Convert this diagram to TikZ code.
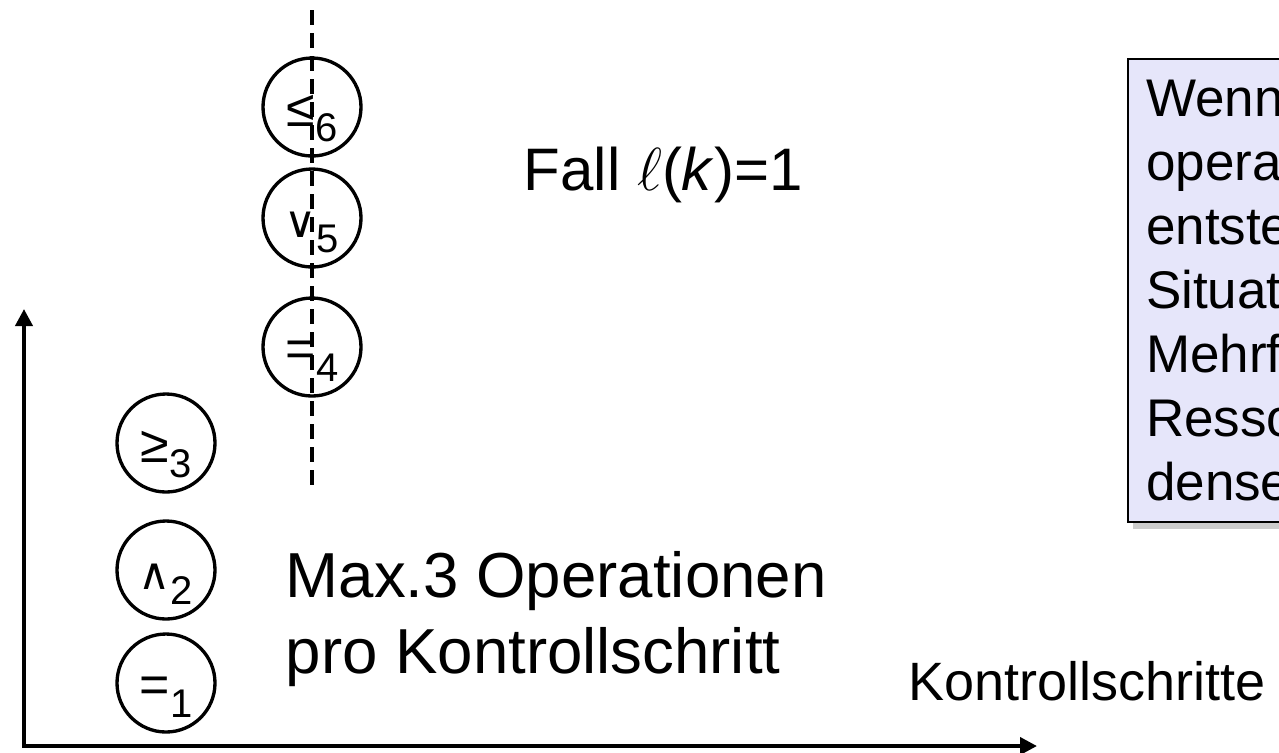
\documentclass[tikz,border=0pt]{standalone}
\usepackage{fontspec}
\setmainfont{Liberation Sans}
\newfontfamily\symfont{DejaVu Sans}
\usetikzlibrary{arrows.meta, positioning, shadows}
\definecolor{notefill}{RGB}{230,230,250}
\newcommand{\opnode}[2]{\raisebox{-0.19cm}[0pt][0pt]{{\fontsize{0.52cm}{0.6cm}\selectfont #1}\raisebox{-0.15cm}{#2}}}

\begin{document}
\begin{tikzpicture}[
        opcircle/.style={draw, circle, line width=0.95pt, minimum size=0.98cm, inner sep=0pt, font=\fontsize{0.4cm}{0.48cm}\selectfont},
        axis/.style={{Triangle[length=0.17cm, width=0.17cm]}-{Triangle[length=0.17cm, width=0.17cm]}, line width=1.1pt},
        stepline/.style={dash pattern=on 0.15cm off 0.08cm, line width=1pt},
        bigtext/.style={font=\fontsize{0.636cm}{0.76cm}\selectfont, inner sep=0pt}
    ]
        \useasboundingbox (0,0) rectangle (12.79,7.52);

        % Axes
        \coordinate (origin) at (0.24, 0.06);
        \coordinate (ytip) at (0.24, 4.43);
        \coordinate (xtip) at (10.37, 0.06);
        \draw[axis] (ytip) -- (origin) -- (xtip);

        % Control step 2
        \coordinate (steptop) at (3.12, 7.42);
        \coordinate (stepbot) at (3.12, 2.62);
        \draw[stepline] (steptop) -- (stepbot);

        % Operations
        \node[opcircle] (op1) at (1.66, 0.69) {\opnode{=}{1}};
        \node[opcircle] (op2) at (1.66, 1.82) {\opnode{\symfont\fontsize{0.44cm}{0.5cm}\selectfont ∧}{2}};
        \node[opcircle] (op3) at (1.66, 3.09) {\opnode{≥}{3}};
        \node[opcircle] (op4) at (3.12, 4.05) {\opnode{=}{4}};
        \node[opcircle] (op5) at (3.12, 5.34) {\opnode{\symfont\fontsize{0.44cm}{0.5cm}\selectfont ∨}{5}};
        \node[opcircle] (op6) at (3.12, 6.45) {\opnode{≤}{6}};

        % Labels
        \node[bigtext, font=\fontsize{0.6cm}{0.72cm}\selectfont, anchor=base west] (case) at (5.23, 5.62) {Fall $\ell$(\textit{k})=1};
        \node[bigtext, anchor=north west, align=left] (limit) at (2.85, 2.01) {
            Max.3 Operationen\\
            pro Kontrollschritt
        };
        \node[font=\fontsize{0.54cm}{0.65cm}\selectfont, inner sep=0pt, anchor=base west] (xlabel) at (9.08, 0.52) {Kontrollschritte};

        % Note
        \node[draw, fill=notefill, line width=0.6pt, anchor=north west, minimum height=4.63cm, text width=3.2cm, inner xsep=0.18cm, align=left, font=\fontsize{0.53cm}{0.64cm}\selectfont, drop shadow={shadow xshift=0.05cm, shadow yshift=-0.07cm, fill=black!40}] (note) at (11.27, 6.94) {
            Wenn\\
            opera\\
            entste\\
            Situat\\
            Mehrf\\
            Resso\\
            dense
        };
    \end{tikzpicture}
\end{document}
